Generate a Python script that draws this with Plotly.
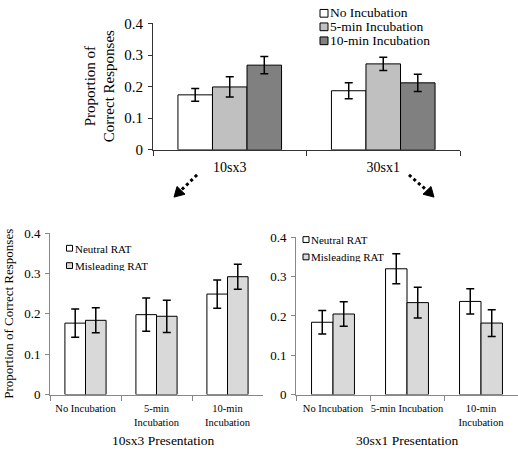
import plotly.graph_objects as go

W, H = 518, 455
FONT = "Liberation Serif, Times New Roman, serif"

# ---- data ----
top_groups = ["10sx3", "30sx1"]
top_series = ["No Incubation", "5-min Incubation", "10-min Incubation"]
top_vals = {
    "No Incubation": [0.174, 0.187],
    "5-min Incubation": [0.199, 0.272],
    "10-min Incubation": [0.268, 0.212],
}
top_errs = {
    "No Incubation": [0.020, 0.025],
    "5-min Incubation": [0.032, 0.021],
    "10-min Incubation": [0.027, 0.027],
}
top_colors = ["#ffffff", "#c0c0c0", "#808080"]

bot_cats = ["No Incubation", "5-min Incubation", "10-min Incubation"]
left_ticklabels = ["No Incubation", "5-min<br>Incubation", "10-min<br>Incubation"]
right_ticklabels = ["No Incubation", "5-min Incubation", "10-min<br>Incubation"]
bot_series = ["Neutral RAT", "Misleading RAT"]
left_vals = {"Neutral RAT": [0.177, 0.198, 0.249], "Misleading RAT": [0.184, 0.194, 0.292]}
left_errs = {"Neutral RAT": [0.035, 0.041, 0.035], "Misleading RAT": [0.031, 0.040, 0.031]}
right_vals = {"Neutral RAT": [0.184, 0.320, 0.237], "Misleading RAT": [0.205, 0.234, 0.182]}
right_errs = {"Neutral RAT": [0.030, 0.038, 0.032], "Misleading RAT": [0.031, 0.039, 0.034]}
bot_colors = ["#ffffff", "#d9d9d9"]

ytick_vals = [0, 0.1, 0.2, 0.3, 0.4]
ytick_text = ["0", "0.1", "0.2", "0.3", "0.4"]

def px_x(x):
    return x / W

def px_y(y):
    return 1 - y / H

fig = go.Figure()

# top chart
tw = 0.225
for i, s in enumerate(top_series):
    fig.add_trace(go.Bar(
        x=top_groups, y=top_vals[s], name=s,
        width=tw, offset=-1.5 * tw + i * tw,
        marker=dict(color=top_colors[i], line=dict(color="black", width=1)),
        error_y=dict(type="data", array=top_errs[s], color="black", thickness=1.5, width=4),
        xaxis="x", yaxis="y", showlegend=False,
    ))

bw = 0.29
for i, s in enumerate(bot_series):
    fig.add_trace(go.Bar(
        x=bot_cats, y=left_vals[s], name=s,
        width=bw, offset=-bw + i * bw,
        marker=dict(color=bot_colors[i], line=dict(color="black", width=1)),
        error_y=dict(type="data", array=left_errs[s], color="black", thickness=1.5, width=4),
        xaxis="x2", yaxis="y2", showlegend=False,
    ))
    fig.add_trace(go.Bar(
        x=bot_cats, y=right_vals[s], name=s,
        width=bw, offset=-bw + i * bw,
        marker=dict(color=bot_colors[i], line=dict(color="black", width=1)),
        error_y=dict(type="data", array=right_errs[s], color="black", thickness=1.5, width=4),
        xaxis="x3", yaxis="y3", showlegend=False,
    ))

tick_font_top = dict(family=FONT, size=15, color="black")
tick_font_bot = dict(family=FONT, size=13, color="black")

def yaxis(domain, anchor, font, linecolor):
    return dict(domain=domain, anchor=anchor, range=[0, 0.4], tickvals=ytick_vals,
                ticktext=ytick_text, ticks="outside", ticklen=4, tickcolor=linecolor,
                showline=True, linecolor=linecolor, linewidth=1, showgrid=False,
                zeroline=False, tickfont=font, ticklabelstandoff=2)

def xaxis(domain, anchor, font, linecolor, n, ticktext=None, cats=None):
    d = dict(domain=domain, anchor=anchor, range=[-0.5, n - 0.5], type="category",
             tickson="boundaries", ticks="outside", ticklen=5, tickcolor=linecolor,
             showline=True, linecolor=linecolor, linewidth=1, showgrid=False,
             zeroline=False, tickfont=font, tickangle=0, ticklabelstandoff=4)
    if ticktext is not None:
        d["tickvals"] = cats
        d["ticktext"] = ticktext
    return d

fig.update_layout(
    width=W, height=H, margin=dict(l=0, r=0, t=0, b=0),
    paper_bgcolor="white", plot_bgcolor="white",
    barmode="overlay", showlegend=False,
    font=dict(family=FONT, color="black"),
    xaxis=xaxis([px_x(153), px_x(460)], "y", dict(family=FONT, size=14, color="black"), "#333", 2),
    yaxis=yaxis([px_y(147), px_y(16)], "x", tick_font_top, "#333"),
    xaxis2=xaxis([px_x(50), px_x(263)], "y2", dict(family=FONT, size=10.5, color="black"), "#888", 3,
                 left_ticklabels, bot_cats),
    yaxis2=yaxis([px_y(400.7), px_y(233.3)], "x2", tick_font_bot, "#888"),
    xaxis3=xaxis([px_x(296), px_x(518)], "y3", dict(family=FONT, size=10.5, color="black"), "#888", 3,
                 right_ticklabels, bot_cats),
    yaxis3=yaxis([px_y(400.7), px_y(237.7)], "x3", tick_font_bot, "#888"),
)

ann = []
shapes = []

# axis titles
ann.append(dict(text="Proportion of<br>Correct Responses", x=px_x(100), y=px_y(81),
                xref="paper", yref="paper", showarrow=False, textangle=-90,
                xanchor="center", yanchor="middle",
                font=dict(family=FONT, size=15, color="black")))
ann.append(dict(text="Proportion of Correct Responses", x=px_x(9), y=px_y(317),
                xref="paper", yref="paper", showarrow=False, textangle=-90,
                xanchor="center", yanchor="middle",
                font=dict(family=FONT, size=13, color="black")))
ann.append(dict(text="10sx3 Presentation", x=px_x(163), y=px_y(448),
                xref="paper", yref="paper", showarrow=False,
                xanchor="center", yanchor="middle",
                font=dict(family=FONT, size=13.5, color="black")))
ann.append(dict(text="30sx1 Presentation", x=px_x(407), y=px_y(448),
                xref="paper", yref="paper", showarrow=False,
                xanchor="center", yanchor="middle",
                font=dict(family=FONT, size=13.5, color="black")))

# legends
def legend(items, colors, x0, ys, box, fontsize):
    for name, c, yc in zip(items, colors, ys):
        shapes.append(dict(type="rect", xref="paper", yref="paper",
                           x0=px_x(x0), x1=px_x(x0 + box),
                           y0=px_y(yc + box / 2), y1=px_y(yc - box / 2),
                           fillcolor=c, line=dict(color="black", width=1)))
        ann.append(dict(text=name, x=px_x(x0 + box + 1), y=px_y(yc), xref="paper", yref="paper",
                        xanchor="left", yanchor="middle", showarrow=False,
                        height=fontsize, borderpad=0,
                        font=dict(family=FONT, size=fontsize, color="black")))

legend(top_series, top_colors, 320, [5.5, 19.5, 34], 8, 13.5)
legend(bot_series, bot_colors, 66.5, [249, 267], 6, 11)
legend(bot_series, bot_colors, 303, [240, 258], 6, 11)

# arrows (dotted line + filled head)
def arrow(x0, y0, xt, yt, p1, p2):
    shapes.append(dict(type="line", xref="paper", yref="paper",
                       x0=px_x(x0), y0=px_y(y0), x1=px_x((xt + p1[0] + p2[0]) / 3), y1=px_y((yt + p1[1] + p2[1]) / 3),
                       line=dict(color="black", width=3, dash="dot")))
    path = "M {} {} L {} {} L {} {} Z".format(px_x(xt), px_y(yt), px_x(p1[0]), px_y(p1[1]),
                                              px_x(p2[0]), px_y(p2[1]))
    shapes.append(dict(type="path", xref="paper", yref="paper", path=path,
                       fillcolor="black", line=dict(color="black", width=1)))

arrow(197, 173, 174, 196, (185, 193), (177, 185))
arrow(409, 173, 434, 196, (423, 193), (431, 185))

fig.update_layout(annotations=ann, shapes=shapes)
fig.write_html("out.html", config={"displayModeBar": False},
               post_script="document.body.style.margin='0';document.body.style.overflow='hidden';")
